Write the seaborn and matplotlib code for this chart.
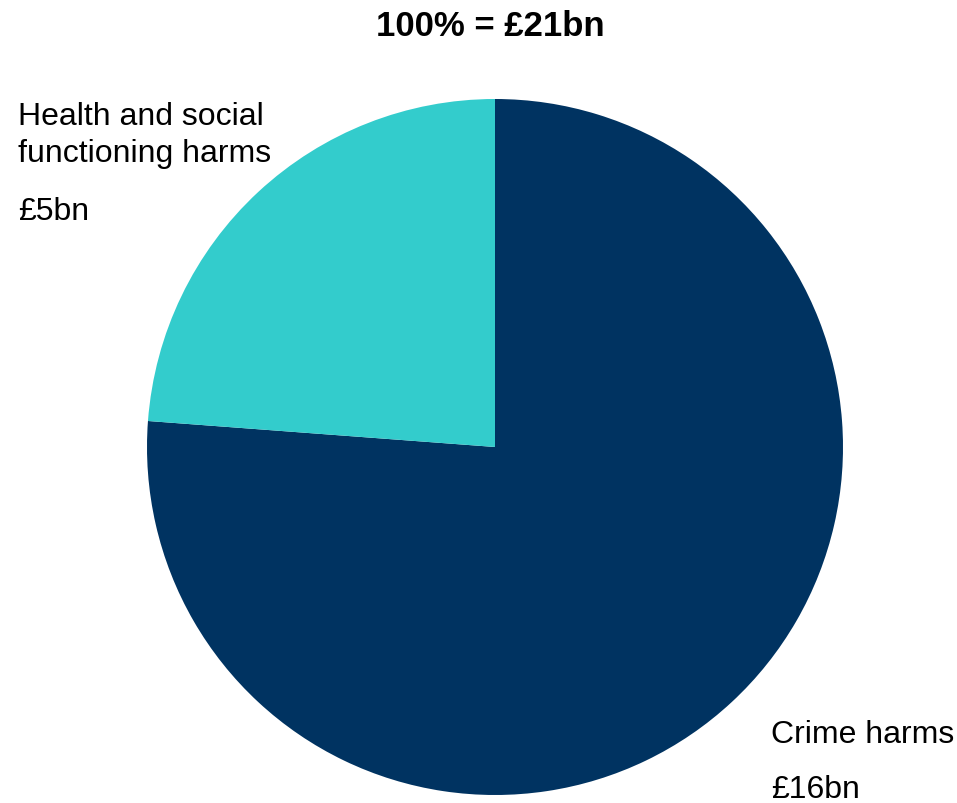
import matplotlib
matplotlib.use("Agg")
import matplotlib.pyplot as plt
import seaborn as sns

# data
labels = ["Crime harms", "Health and social\nfunctioning harms"]
values = [16, 5]
value_labels = ["£16bn", "£5bn"]
total_label = "100% = £21bn"
colors = ["#003361", "#33CCCC"]

sns.set_theme(style="white")
plt.rcParams['font.family'] = ['Liberation Sans', 'DejaVu Sans']

W, H = 957, 804
fig = plt.figure(figsize=(W / 100, H / 100), dpi=100)

# pie axes: centre (495, 448) px, radius 348 px
cx, cy, r = 495, 448, 348
ax = fig.add_axes([(cx - r) / W, (H - cy - r) / H, 2 * r / W, 2 * r / H])
ax.pie(values, colors=colors, startangle=90, counterclock=False,
       radius=1, wedgeprops=dict(linewidth=0))
ax.set_xlim(-1, 1)
ax.set_ylim(-1, 1)
ax.set_aspect("equal")
ax.axis("off")

# title
fig.text(490 / W, 1 - 36 / H, total_label, ha="center", va="baseline",
         fontsize=25, fontweight="bold", color="black")

# labels (one line per text, placed by baseline)
for i, line in enumerate(labels[1].split("\n")):
    fig.text(18 / W, 1 - (125 + 37 * i) / H, line, ha="left", va="baseline",
             fontsize=23, color="black")
fig.text(18 / W, 1 - 220 / H, value_labels[1], ha="left", va="baseline",
         fontsize=23, color="black")
fig.text(771 / W, 1 - 743 / H, labels[0], ha="left", va="baseline",
         fontsize=23, color="black")
fig.text(771 / W, 1 - 798 / H, value_labels[0], ha="left", va="baseline",
         fontsize=23, color="black")

fig.savefig("out.png", dpi=100, facecolor="white")
